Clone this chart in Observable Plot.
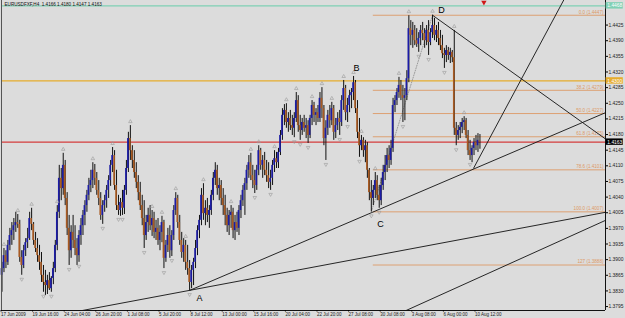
<!DOCTYPE html>
<html><head><meta charset="utf-8">
<script src="https://cdn.jsdelivr.net/npm/d3@7"></script>
<script src="https://cdn.jsdelivr.net/npm/@observablehq/plot@0.6"></script>
<style>
html,body{margin:0;padding:0;background:#dcdcdc;}
#chart svg{display:block;}
</style></head><body><div id="chart"></div>
<script>
// ---------- data (prices in points, 1 point = 0.0001) ----------
const symbolTitle = "EURUSDFXF,H4  1.4166 1.4180 1.4147 1.4163";

const barOpen = [
13865,13880,13909,13894,13932,13954,13965,13976,13983,13979,
13905,13887,13920,13938,13947,13992,13979,13943,13925,13909,
13894,13865,13849,13842,13853,13835,13858,13880,13932,14006,
14082,14059,14111,14037,13970,13920,13961,13943,13925,13909,
13954,13976,13999,14021,14044,14066,14077,14100,14082,14055,
14037,13999,14021,14032,14055,14077,14111,14133,14066,14021,
14010,14028,14015,14055,14104,14171,14144,14122,14095,14073,
14050,14021,13992,13954,13983,13999,13976,13992,13961,13970,
13943,13961,13983,13903,13932,13954,13920,13954,14010,14037,
13983,13943,13916,13932,13894,13880,13849,13876,13894,13925,
13965,13988,14044,14003,14015,13999,14010,14044,14082,14100,
14059,14066,14037,14021,13999,13976,13999,14006,13965,13983,
13970,14010,14032,14055,14070,14100,14117,14088,14077,14066,
14100,14144,14111,14122,14100,14088,14073,14082,14111,14126,
14117,14140,14178,14223,14234,14207,14216,14200,14194,14216,
14256,14200,14189,14207,14194,14200,14178,14216,14245,14223,
14229,14216,14261,14238,14171,14194,14223,14211,14238,14185,
14200,14216,14207,14256,14283,14229,14245,14267,14274,14296,
14238,14185,14155,14167,14144,14155,14100,14050,14037,14055,
14077,14044,14032,14066,14095,14111,14133,14122,14149,14245,
14256,14274,14290,14267,14261,14267,14305,14417,14402,14413,
14390,14382,14395,14413,14406,14390,14413,14386,14408,14424,
14402,14413,14395,14379,14361,14357,14368,14357,14364,14352,
14194,14178,14189,14196,14207,14211,14178,14144,14133,14149,
14162,14155,14166];

const barHigh = [
13894,13925,13920,13943,13970,13983,13992,14006,14001,13988,
13920,13932,13947,13970,14006,14015,13983,13961,13947,13932,
13916,13887,13876,13865,13871,13862,13894,13943,14021,14111,
14104,14138,14122,14050,13999,13976,13999,13976,13947,13965,
13992,14010,14032,14055,14082,14100,14117,14113,14095,14077,
14050,14032,14044,14066,14088,14122,14151,14144,14100,14044,
14037,14055,14066,14122,14185,14200,14155,14144,14117,14088,
14073,14044,14032,13999,14015,14021,14010,14006,13988,13992,
13976,13997,13988,13943,13970,13976,13965,14021,14050,14044,
13999,13961,13947,13943,13932,13898,13887,13903,13943,13976,
13999,14059,14070,14032,14037,14021,14055,14095,14117,14111,
14082,14077,14059,14044,14015,14010,14021,14015,13999,14006,
14021,14044,14066,14082,14111,14133,14138,14111,14100,14111,
14155,14149,14133,14140,14122,14117,14100,14122,14144,14140,
14149,14189,14238,14247,14249,14229,14234,14223,14229,14274,
14267,14223,14216,14223,14216,14211,14223,14256,14252,14238,
14245,14274,14285,14245,14211,14234,14245,14252,14245,14216,
14229,14234,14267,14301,14290,14261,14279,14283,14310,14301,
14256,14216,14178,14173,14167,14162,14104,14077,14066,14095,
14088,14066,14082,14111,14133,14149,14155,14167,14261,14267,
14283,14308,14301,14290,14283,14323,14446,14435,14431,14424,
14417,14408,14424,14431,14417,14424,14435,14417,14447,14440,
14424,14431,14413,14402,14373,14379,14375,14373,14368,14413,
14207,14200,14207,14216,14220,14216,14189,14167,14155,14171,
14178,14182,14180];

const barLow = [
13827,13871,13880,13887,13920,13932,13943,13961,13970,13894,
13865,13880,13907,13925,13943,13965,13932,13916,13894,13876,
13849,13827,13820,13822,13831,13827,13844,13871,13920,13992,
14032,14044,14021,13954,13887,13903,13925,13909,13887,13894,
13932,13954,13976,14006,14032,14050,14059,14066,14044,14021,
13988,13979,14006,14015,14037,14064,14095,14055,14010,13999,
13997,13999,14001,14044,14095,14122,14104,14082,14059,14032,
14010,13976,13925,13943,13961,13965,13952,13947,13943,13932,
13920,13938,13880,13894,13916,13903,13907,13943,13999,13970,
13932,13903,13894,13876,13865,13831,13835,13842,13880,13909,
13947,13976,13988,13976,13983,13970,13999,14032,14066,14044,
14032,14021,13999,13976,13961,13954,13970,13947,13943,13961,
13954,13992,14019,13999,14055,14082,14077,14059,14048,14055,
14088,14100,14082,14088,14073,14059,14055,14066,14095,14104,
14104,14133,14167,14200,14194,14185,14189,14178,14173,14207,
14185,14167,14178,14185,14171,14160,14171,14200,14207,14200,
14207,14207,14216,14155,14122,14178,14194,14200,14167,14171,
14189,14178,14198,14234,14211,14207,14229,14238,14256,14227,
14171,14129,14144,14129,14117,14082,14032,14007,14021,14037,
14032,14015,14021,14055,14077,14095,14104,14111,14140,14229,
14245,14261,14256,14207,14211,14256,14296,14379,14373,14379,
14375,14364,14379,14390,14373,14379,14357,14379,14395,14390,
14386,14379,14368,14350,14328,14341,14346,14339,14341,14178,
14155,14167,14171,14182,14189,14171,14133,14122,14117,14133,
14144,14140,14147];

const barClose = [
13880,13909,13894,13932,13954,13965,13976,13983,13979,13905,
13887,13920,13938,13947,13992,13979,13943,13925,13909,13894,
13865,13849,13842,13853,13835,13858,13880,13932,14006,14082,
14059,14111,14037,13970,13920,13961,13943,13925,13909,13954,
13976,13999,14021,14044,14066,14077,14100,14082,14055,14037,
13999,14021,14032,14055,14077,14111,14133,14066,14021,14010,
14028,14015,14055,14104,14171,14144,14122,14095,14073,14050,
14021,13992,13954,13983,13999,13976,13992,13961,13970,13943,
13961,13983,13903,13932,13954,13920,13954,14010,14037,13983,
13943,13916,13932,13894,13880,13849,13876,13894,13925,13965,
13988,14044,14003,14015,13999,14010,14044,14082,14100,14059,
14066,14037,14021,13999,13976,13999,14006,13965,13983,13970,
14010,14032,14055,14070,14100,14117,14088,14077,14066,14100,
14144,14111,14122,14100,14088,14073,14082,14111,14126,14117,
14140,14178,14223,14234,14207,14216,14200,14194,14216,14256,
14200,14189,14207,14194,14200,14178,14216,14245,14223,14229,
14216,14261,14238,14171,14194,14223,14211,14238,14185,14200,
14216,14207,14256,14283,14229,14245,14267,14274,14296,14238,
14185,14155,14167,14144,14155,14100,14050,14037,14055,14077,
14044,14032,14066,14095,14111,14133,14122,14149,14245,14256,
14274,14290,14267,14261,14267,14305,14417,14402,14413,14390,
14382,14395,14413,14406,14390,14413,14386,14408,14424,14402,
14413,14395,14379,14361,14357,14368,14357,14364,14352,14194,
14178,14189,14196,14207,14211,14178,14144,14133,14149,14162,
14155,14167,14163];

// Bill Williams fractal marks (bar numbers)
const fractalUpBars = [1,8,15,28,31,46,56,65,76,81,88,93,102,116,126,130,138,144,149,157,162,167,173,178,182,189,201,206,218,229,234];
const fractalDownBars = [10,21,25,34,39,51,59,61,72,82,86,95,128,136,148,151,155,164,171,175,181,187,191,203,211,216,224,230,237];

// time axis
const timeTickBars = [0,16,32,48,64,80,96,112,128,144,160,176,192,208,224,240];
const timeLabels = ["17 Jun 2009","19 Jun 16:00","24 Jun 04:00","26 Jun 20:00","1 Jul 08:00","5 Jul 20:00","8 Jul 12:00","13 Jul 00:00","15 Jul 16:00","20 Jul 04:00","22 Jul 20:00","27 Jul 08:00","30 Jul 08:00","3 Aug 08:00","6 Aug 00:00","10 Aug 12:00"];

// price axis
const priceTicks = [1.3795,1.3830,1.3865,1.3900,1.3935,1.3970,1.4005,1.4040,1.4075,1.4110,1.4145,1.4180,1.4215,1.4250,1.4285,1.4320,1.4355,1.4390,1.4425];

// horizontal levels
const levelPrices = [1.4468, 1.4300, 1.4163];
const levelKinds = ["alert", "resistance", "bid"];

// Fibonacci retracement C..D
const fibLevels = ["0.0","38.2","50.0","61.8","78.6","100.0","127"];
const fibPrices = [1.4447,1.4279,1.4227,1.4175,1.4101,1.4007,1.3888];
const fibStartBar = 188;

// trend lines (bar, price) -> (bar, price)
const trendFromBar   = [29.6, 94.9, 218, 238.7, 197];
const trendFromPrice = [1.3777, 1.3831, 1.4447, 1.4104, 1.3771];
const trendToBar     = [305.6, 305.6, 305.6, 290, 305.6];
const trendToPrice   = [1.4006, 1.4229, 1.4170, 1.4527, 1.3988];

// zigzag C -> D
const zigzagBars = [187, 218];
const zigzagPrices = [1.4007, 1.4447];

// wave labels
const pivotNames = ["A","B","C","D"];
const pivotBars = [100, 179.5, 191.6, 222.5];
const pivotPrices = [1.3815, 1.4328, 1.3979, 1.4458];

// signal arrow
const signalBars = [244];
const signalPrices = [1.4476];

// ---------- styles ----------
const C = {
  bg: "#dcdcdc", up: "#1c1ca6", down: "#a85a22", wick: "#111",
  fib: "#dc9a66", fractal: "#9a9a9a",
  alert: "#7fd0b4", resistance: "#e6ac2c", bid: "#d43c3c"
};
const boxFill = {alert: "#7fd0b4", resistance: "#e6ac2c", bid: "#000"};
const FONT = "'Liberation Sans', Arial, sans-serif";

// ---------- tables ----------
const bars = barOpen.map((o, i) => ({
  i, open: o / 1e4, high: barHigh[i] / 1e4, low: barLow[i] / 1e4, close: barClose[i] / 1e4
}));
const upBars = bars.filter(d => d.close >= d.open);
const downBars = bars.filter(d => d.close < d.open);
const fracUp = fractalUpBars.map(i => bars[i]);
const fracDown = fractalDownBars.map(i => bars[i]);
const levels = levelPrices.map((p, k) => ({price: p, kind: levelKinds[k]}));
const fib = fibLevels.map((l, k) => ({level: l, price: fibPrices[k]}));
const trends = trendFromBar.map((b, k) => ({x1: b, y1: trendFromPrice[k], x2: trendToBar[k], y2: trendToPrice[k]}));
const zigzag = zigzagBars.map((b, k) => ({bar: b, price: zigzagPrices[k]}));
const pivots = pivotNames.map((n, k) => ({name: n, bar: pivotBars[k], price: pivotPrices[k]}));
const signals = signalBars.map((b, k) => ({bar: b, price: signalPrices[k]}));

const xDomain = [-0.25, 305.57];
const yDomain = [1.37862, 1.4480];
const xMax = xDomain[1];

const chart = Plot.plot({
  width: 625, height: 318,
  marginTop: 0, marginBottom: 8, marginLeft: 1, marginRight: 20,
  x: {domain: xDomain, axis: null},
  y: {domain: yDomain, axis: null},
  style: {background: C.bg, fontFamily: FONT, overflow: "visible"},
  marks: [
    // horizontal levels
    ...levels.map(l => Plot.ruleY([l.price], {stroke: C[l.kind], strokeWidth: 1.2})),
    // fibonacci lines
    Plot.ruleY(fib, {y: "price", x1: () => fibStartBar, x2: () => xMax, stroke: C.fib, strokeWidth: 0.9}),
    Plot.text(fib, {x: () => xMax, y: "price", text: d => `${d.level} (${d.price.toFixed(4)})`,
      textAnchor: "end", dx: -2, dy: -3, fontSize: 4.6, fill: C.fib}),
    // trend lines
    Plot.link(trends, {x1: "x1", y1: "y1", x2: "x2", y2: "y2", stroke: "#111", strokeWidth: 0.9, clip: true}),
    Plot.line(zigzag, {x: "bar", y: "price", stroke: "#8a8a8a", strokeWidth: 0.8, strokeDasharray: "1,1.5"}),
    // candles
    Plot.ruleX(bars, {x: "i", y1: "low", y2: "high", stroke: C.wick, strokeWidth: 1}),
    Plot.rect(upBars, {x1: d => d.i - 0.42, x2: d => d.i + 0.42, y1: "open", y2: "close", fill: C.up}),
    Plot.rect(downBars, {x1: d => d.i - 0.42, x2: d => d.i + 0.42, y1: "open", y2: "close", fill: C.down}),
    // fractals
    Plot.dot(fracUp, {x: "i", y: "high", dy: -4, symbol: "triangle", r: 1.3, stroke: C.fractal, fill: "none", strokeWidth: 0.6}),
    Plot.dot(fracDown, {x: "i", y: "low", dy: 4, symbol: "triangle", rotate: 180, r: 1.3, stroke: C.fractal, fill: "none", strokeWidth: 0.6}),
    // wave labels
    Plot.text(pivots, {x: "bar", y: "price", text: "name", fontSize: 9, fill: "#000"}),
    // signal arrow
    Plot.dot(signals, {x: "bar", y: "price", symbol: "triangle", rotate: 180, r: 2, fill: "#d01818"}),
    // frame lines
    Plot.ruleX([xDomain[0]], {stroke: "#555", strokeWidth: 1}),
    Plot.ruleX([xMax], {stroke: "#111", strokeWidth: 1}),
    Plot.ruleY([yDomain[0]], {stroke: "#111", strokeWidth: 1}),
    // axes
    Plot.axisY({ticks: priceTicks, anchor: "right", tickSize: 2, tickPadding: 1, tickFormat: d => d.toFixed(4),
      fontSize: 4.9, fill: "#222", label: null}),
    Plot.axisX({ticks: timeTickBars, anchor: "bottom", tickSize: 1.5, tickPadding: 0.5,
      tickFormat: d => timeLabels[timeTickBars.indexOf(d)], textAnchor: "start", dx: -1,
      fontSize: 4.5, fill: "#222", label: null}),
    // value boxes on the price scale
    Plot.rect(levels, {x1: () => xMax + 0.3, x2: () => xMax + 9, y1: d => d.price - 0.00072, y2: d => d.price + 0.00072,
      fill: d => boxFill[d.kind]}),
    Plot.text(levels, {x: () => xMax + 4.7, y: "price", text: d => d.price.toFixed(4), fill: "#fff", fontSize: 4.9}),
    // title
    Plot.text([symbolTitle], {frameAnchor: "top-left", text: d => d, dx: 3, dy: 2.5, fontSize: 4.6, fill: "#111", textAnchor: "start"})
  ]
});
document.getElementById("chart").appendChild(chart);
</script>
</body></html>
